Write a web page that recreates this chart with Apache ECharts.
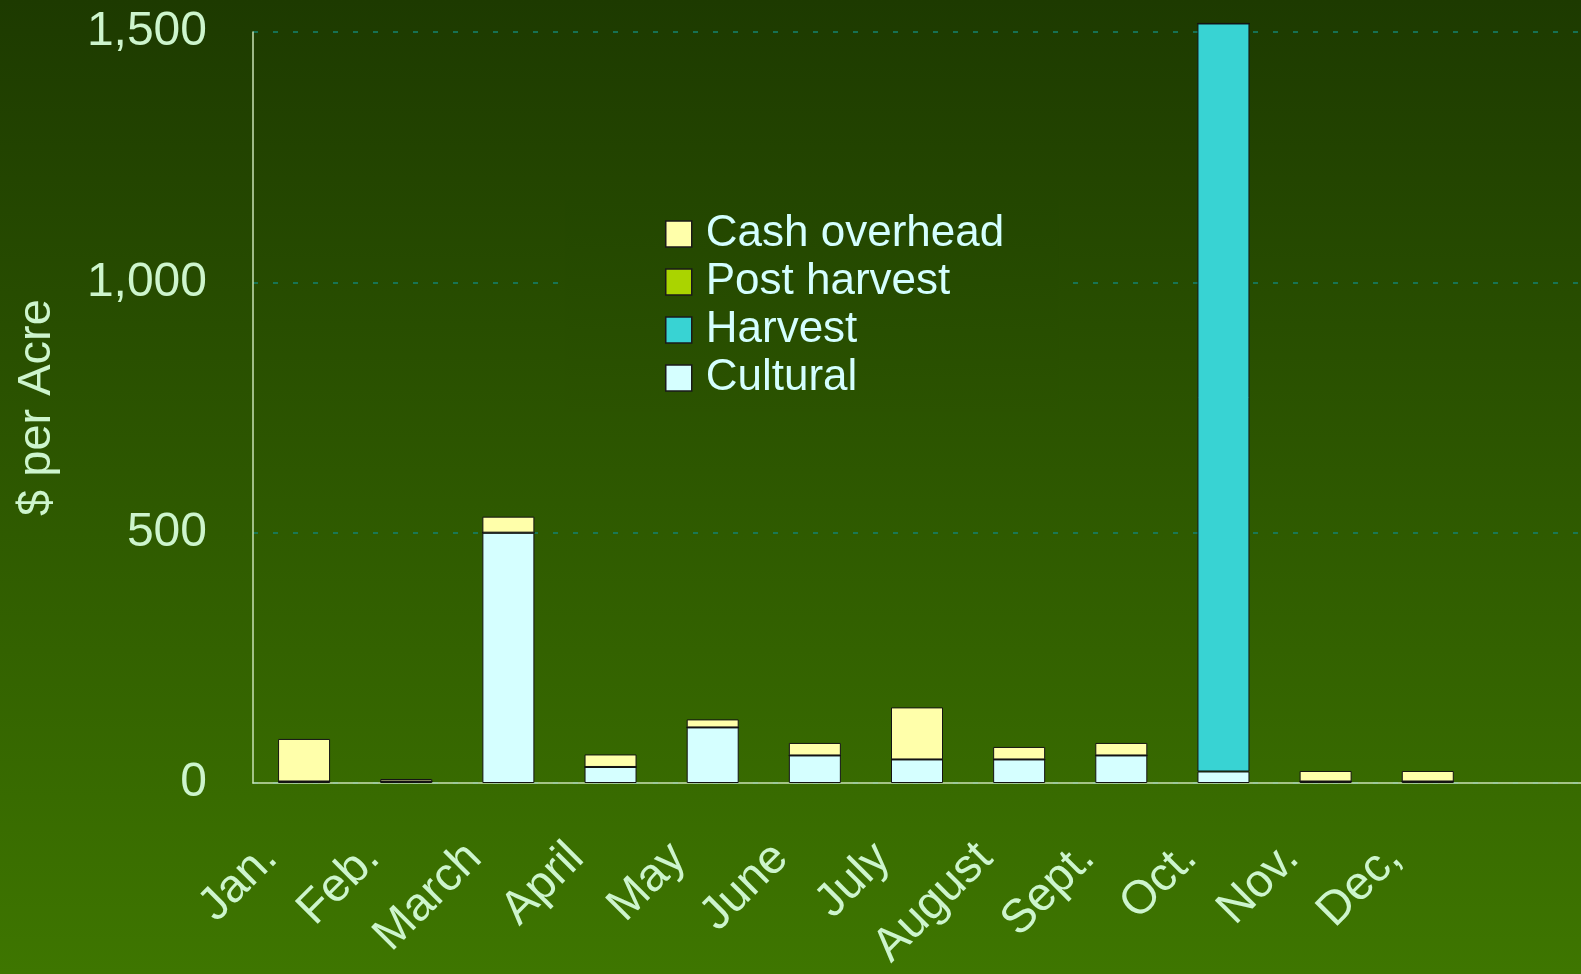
<!DOCTYPE html>
<html>
<head>
<meta charset="utf-8">
<title>Monthly costs per acre</title>
<script src="https://cdn.jsdelivr.net/npm/echarts@6/dist/echarts.min.js"></script>
<style>
  html, body { margin: 0; padding: 0; }
  #chart {
    width: 1581px; height: 974px;
    background: linear-gradient(to bottom, #1d3a00 0%, #3e7600 100%);
  }
</style>
</head>
<body>
<div id="chart"></div>
<script>
// Months on the category axis (last slot left empty)
const months = ['Jan.', 'Feb.', 'March', 'April', 'May', 'June', 'July', 'August', 'Sept.', 'Oct.', 'Nov.', 'Dec,', ''];

// Costs in $ per acre, stacked bottom to top
const cultural     = [3, 3, 500, 32, 111, 55, 47, 47, 55, 23, 3, 3];
const harvest      = [0, 0, 0, 0, 0, 0, 0, 0, 0, 1494, 0, 0];
const postHarvest  = [0, 0, 0, 0, 0, 0, 0, 0, 0, 0, 0, 0];
const cashOverhead = [85, 5, 32, 25, 16, 25, 104, 25, 25, 0, 21, 21];

// Value axis ticks
const yTicks = [0, 500, 1000, 1500];

const FONT = "'Liberation Sans', Arial, sans-serif";
const LABEL_COLOR = '#cdf5cd';
const LEGEND_COLOR = '#d4ffff';

// Slice of the page gradient behind the legend box (y ≈ 200..412)
const legendBg = {
  type: 'linear', x: 0, y: 0, x2: 0, y2: 1,
  colorStops: [{ offset: 0, color: '#234600' }, { offset: 1, color: '#2b5300' }]
};

function barSeries(name, data, color) {
  return {
    name: name,
    type: 'bar',
    stack: 'cost',
    data: data,
    barWidth: 52,
    clip: false,
    itemStyle: { color: color, borderColor: '#141414', borderWidth: 1 },
    emphasis: { disabled: true }
  };
}

const chart = echarts.init(document.getElementById('chart'), null, { renderer: 'canvas' });

chart.setOption({
  backgroundColor: 'transparent',
  animation: false,
  textStyle: { fontFamily: FONT },
  grid: { left: 253, right: -4, top: 32, bottom: 191, containLabel: false },
  legend: {
    orient: 'vertical',
    left: 565,
    top: 200,
    padding: [10, 54, 10, 100],
    backgroundColor: legendBg,
    itemWidth: 26,
    itemHeight: 26,
    itemGap: 0,
    icon: 'rect',
    selectedMode: false,
    data: ['Cash overhead', 'Post harvest', 'Harvest', 'Cultural'],
    textStyle: { color: LEGEND_COLOR, fontSize: 44, lineHeight: 48, fontFamily: FONT, padding: [0, 0, 0, 9] },
    itemStyle: { borderColor: '#1a1a1a', borderWidth: 1.5 }
  },
  xAxis: {
    type: 'category',
    data: months,
    boundaryGap: true,
    axisLine: { show: true, lineStyle: { color: '#c9e2b4', width: 1.5 } },
    axisTick: { show: false },
    axisLabel: {
      interval: 0,
      rotate: 45,
      margin: 34,
      padding: [0, 48, 0, 0],
      color: LABEL_COLOR,
      fontSize: 47,
      fontFamily: FONT
    },
    splitLine: { show: false }
  },
  yAxis: {
    type: 'value',
    min: yTicks[0],
    max: yTicks[yTicks.length - 1],
    interval: 500,
    name: '$ per Acre',
    nameLocation: 'middle',
    nameRotate: 90,
    nameGap: 192,
    nameTextStyle: { color: LABEL_COLOR, fontSize: 47, fontFamily: FONT },
    axisLine: { show: true, lineStyle: { color: '#c9e2b4', width: 1.5 } },
    axisTick: { show: false },
    axisLabel: {
      margin: 46,
      color: LABEL_COLOR,
      fontSize: 48,
      fontFamily: FONT,
      formatter: v => v.toLocaleString('en-US')
    },
    splitLine: {
      show: true,
      lineStyle: { color: '#148270', width: 1.5, type: [5, 15] }
    }
  },
  series: [
    barSeries('Cultural', cultural, '#d5ffff'),
    barSeries('Harvest', harvest, '#38d3d3'),
    barSeries('Post harvest', postHarvest, '#aad400'),
    barSeries('Cash overhead', cashOverhead, '#ffffaa')
  ]
});
</script>
</body>
</html>
